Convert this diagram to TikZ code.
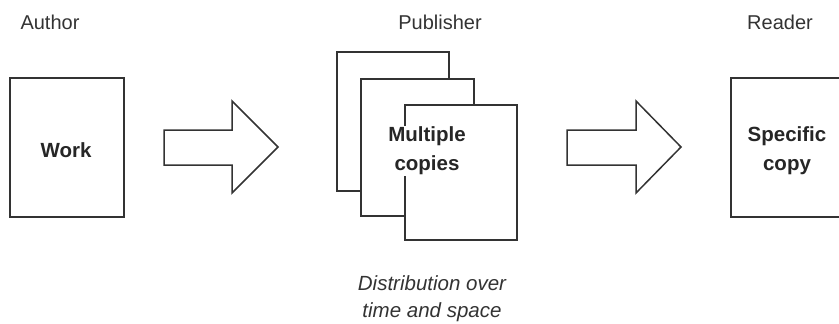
\documentclass[tikz,border=0pt]{standalone}
\usepackage{fontspec}
\setmainfont{Liberation Sans}
\begin{document}
\begin{tikzpicture}[x=1pt,y=-1pt,
  page/.style={draw=black!80,line width=1.6pt,fill=white},
  blockarrow/.style={draw=black!80,line width=1.5pt,fill=white,line join=miter},
  lbl/.style={font=\fontsize{20}{22}\selectfont,text=black!80,inner sep=0pt},
  inbox/.style={font=\fontsize{20.5}{29}\selectfont\bfseries,text=black!85,align=center,inner sep=1pt},
  note/.style={font=\fontsize{20.5}{27}\selectfont\itshape,text=black!80,align=center,inner sep=0pt}]
\useasboundingbox (0,0) rectangle (839,324);
% Author
\node[lbl] (author) at (50,22) {Author};
\draw[page] (10,78) rectangle (124,217);
\node[inbox] (work) at (66,150) {Work};
% arrow 1
\draw[blockarrow] (164,130) -- (232,130) -- (232,101) -- (278,147) -- (232,193) -- (232,165) -- (164,165) -- cycle;
% Publisher
\node[lbl] (publisher) at (440,22) {Publisher};
\draw[page] (337,52) rectangle (449,191);
\draw[page] (361,79) rectangle (474,216);
\draw[page] (405,105) rectangle (517,240);
\node[inbox,fill=white] (copies) at (427,151) {Multiple\\copies};
\node[note] (dist) at (432,299) {Distribution over\\time and space};
% arrow 2
\draw[blockarrow] (567,130) -- (636,130) -- (636,101) -- (681,147) -- (636,193) -- (636,165) -- (567,165) -- cycle;
% Reader
\node[lbl] (reader) at (780,22) {Reader};
\draw[page] (731,78) rectangle (850,217);
\node[inbox] (specific) at (787,151) {Specific\\copy};
\end{tikzpicture}
\end{document}
